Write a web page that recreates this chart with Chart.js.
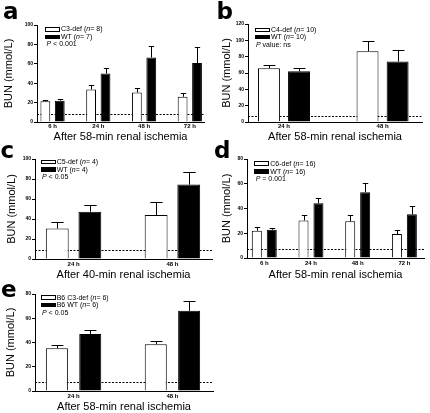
<!DOCTYPE html>
<html><head><meta charset="utf-8">
<script src="https://cdn.jsdelivr.net/npm/chart.js@4/dist/chart.umd.min.js"></script>
<style>
html,body{margin:0;padding:0;background:#fff;}
body{width:430px;height:413px;position:relative;overflow:hidden;font-family:'Liberation Sans',Arial,sans-serif;color:#000;}
canvas{position:absolute;}
.letter{position:absolute;font-family:'DejaVu Sans',sans-serif;font-weight:bold;font-size:23px;line-height:23px;}
.row{position:absolute;height:8px;line-height:8px;font-size:7px;white-space:nowrap;display:flex;align-items:center;}
.box{display:inline-block;width:13px;height:2.5px;border:1px solid #000;margin-right:1px;background:#fff;}
.box.fill{background:#000;}
</style></head><body>
<div id="root"></div>
<script>
// ---------------- DATA ----------------
// Panel a
const aLabels = ['6 h', '24 h', '48 h', '72 h'];
const aNames = ['C3-def', 'WT'];
const aN = [8, 7];
const aP = '< 0.001';
const aDef = [21.4, 33.4, 30.3, 26.0];
const aDefErr = [1.0, 4.6, 4.7, 3.6];
const aWT = [22.0, 50.0, 66.5, 60.7];
const aWTErr = [2.0, 6.0, 11.5, 16.3];
const aNormal = 8.5;
const aYTicks = [0, 20, 40, 60, 80, 100];
const aTitle = 'After 58-min renal ischemia';

// Panel b
const bLabels = ['24 h', '48 h'];
const bNames = ['C4-def', 'WT'];
const bN = [10, 10];
const bP = 'value: ns';
const bDef = [65.8, 86.7];
const bDefErr = [3.7, 12.8];
const bWT = [62.0, 74.0];
const bWTErr = [3.8, 14.0];
const bNormal = 7.8;
const bYTicks = [0, 20, 40, 60, 80, 100, 120];
const bTitle = 'After 58-min renal ischemia';

// Panel c
const cLabels = ['24 h', '48 h'];
const cNames = ['C5-def', 'WT'];
const cN = [4, 4];
const cP = '< 0.05';
const cDef = [30.5, 44.0];
const cDefErr = [6.7, 13.0];
const cWT = [47.3, 74.4];
const cWTErr = [6.4, 12.5];
const cNormal = 8.7;
const cYTicks = [0, 20, 40, 60, 80, 100];
const cTitle = 'After 40-min renal ischemia';

// Panel d
const dLabels = ['6 h', '24 h', '48 h', '72 h'];
const dNames = ['C6-def', 'WT'];
const dN = [16, 16];
const dP = '= 0.001';
const dDef = [22.0, 30.4, 29.6, 19.3];
const dDefErr = [2.7, 4.1, 4.9, 3.0];
const dWT = [22.8, 44.2, 53.2, 35.3];
const dWTErr = [1.3, 4.6, 7.8, 6.5];
const dNormal = 7.6;
const dYTicks = [0, 20, 40, 60, 80];
const dTitle = 'After 58-min renal ischemia';

// Panel e
const eLabels = ['24 h', '48 h'];
const eNames = ['B6 C3-def', 'B6 WT'];
const eN = [6, 6];
const eP = '< 0.05';
const eDef = [35.3, 38.6];
const eDefErr = [2.5, 2.7];
const eWT = [47.1, 66.1];
const eWTErr = [2.8, 7.8];
const eNormal = 7.3;
const eYTicks = [0, 20, 40, 60, 80];
const eTitle = 'After 58-min renal ischemia';

const yAxisTitle = 'BUN (mmol/L)';

// ---------------- LAYOUT (positions only) ----------------
const layouts = {
  a: {left:0, top:0, w:210, h:144, pl:2, pt:25, pr:6, yw:35, xh:22, xpad:1, xmin:-0.34, xmax:3.31, cp:0.63, bp:0.68,
      letter:{x:3, y:-0.5}, leg:{x:45, rows:[29.3, 36.8], px:46.5, py:44.3}},
  b: {left:215, top:0, w:215, h:144, pl:5, pt:24, pr:8, yw:28, xh:22, xpad:1, xmin:-0.365, xmax:1.40, cp:0.61, bp:0.73,
      letter:{x:216.5, y:-0.5}, leg:{x:255, rows:[30, 36.8], px:256, py:45}},
  c: {left:0, top:140, w:215, h:142, pl:5, pt:19, pr:3, yw:30, xh:23, xpad:1.5, xmin:-0.39, xmax:1.40, cp:0.66, bp:0.70,
      letter:{x:0.5, y:138.5}, leg:{x:40.7, rows:[162, 169.6], px:42, py:177.3}},
  d: {left:215, top:140, w:215, h:142, pl:5, pt:19, pr:6, yw:27, xh:24, xpad:2, xmin:-0.37, xmax:3.42, cp:0.64, bp:0.67,
      letter:{x:214, y:138.5}, leg:{x:254.3, rows:[163.5, 171.5], px:255.7, py:179.3}},
  e: {left:0, top:276, w:215, h:138, pl:4, pt:18, pr:2, yw:31, xh:23, xpad:2, xmin:-0.39, xmax:1.41, cp:0.675, bp:0.66,
      letter:{x:1, y:278}, leg:{x:40.7, rows:[297.5, 305], px:42, py:313}}
};

// ---------------- PLUGINS ----------------
const errorBarPlugin = {
  id: 'errorBars',
  afterDatasetsDraw(chart) {
    const ctx = chart.ctx, ys = chart.scales.y;
    ctx.save();
    ctx.strokeStyle = '#000';
    ctx.lineWidth = 1;
    chart.data.datasets.forEach((ds, k) => {
      const meta = chart.getDatasetMeta(k);
      meta.data.forEach((bar, i) => {
        const v = ds.data[i].y, e = ds.errors[i];
        const top = Math.round(ys.getPixelForValue(v + e)) + 0.5;
        const cx = Math.round(bar.x) + 0.5;
        const half = bar.width * 0.27;
        ctx.beginPath();
        ctx.moveTo(cx, bar.y);
        ctx.lineTo(cx, top);
        ctx.moveTo(cx - half, top);
        ctx.lineTo(cx + half, top);
        ctx.stroke();
      });
    });
    ctx.restore();
  }
};

const normalLinePlugin = {
  id: 'normalLine',
  beforeDatasetsDraw(chart, args, opts) {
    const ctx = chart.ctx, ys = chart.scales.y, ca = chart.chartArea;
    const y = Math.round(ys.getPixelForValue(opts.value)) + 0.5;
    ctx.save();
    ctx.strokeStyle = '#000';
    ctx.lineWidth = 1;
    ctx.setLineDash([2, 1.5]);
    ctx.beginPath();
    ctx.moveTo(ca.left, y);
    ctx.lineTo(ca.right, y);
    ctx.stroke();
    ctx.restore();
  }
};

Chart.defaults.font.family = "'Liberation Sans', Arial, sans-serif";
Chart.defaults.color = '#000';

const root = document.getElementById('root');

function buildPanel(key, labels, names, ns, p, def, defErr, wt, wtErr, normal, yTicks, xTitle) {
  const L = layouts[key];
  const cv = document.createElement('canvas');
  cv.width = L.w; cv.height = L.h;
  cv.style.left = L.left + 'px'; cv.style.top = L.top + 'px';
  cv.style.width = L.w + 'px'; cv.style.height = L.h + 'px';
  root.appendChild(cv);

  const series = [{values: def, errors: defErr, fill: '#fff'}, {values: wt, errors: wtErr, fill: '#000'}];
  new Chart(cv, {
    type: 'bar',
    data: {
      datasets: series.map((s, k) => ({
        label: names[k],
        data: s.values.map((v, i) => ({x: i, y: v})),
        errors: s.errors,
        backgroundColor: s.fill,
        borderColor: '#000',
        borderWidth: 1,
        borderSkipped: 'start',
        categoryPercentage: L.cp,
        barPercentage: L.bp
      }))
    },
    options: {
      responsive: false,
      animation: false,
      devicePixelRatio: 1,
      layout: {padding: {left: L.pl, top: L.pt, right: L.pr, bottom: 0}},
      plugins: {
        legend: {display: false},
        tooltip: {enabled: false},
        normalLine: {value: normal}
      },
      scales: {
        x: {
          type: 'linear', offset: false, min: L.xmin, max: L.xmax,
          afterBuildTicks: s => { s.ticks = labels.map((_, i) => ({value: i})); },
          afterFit: s => { s.height = L.xh; },
          ticks: {autoSkip: false, maxRotation: 0, padding: L.xpad, font: {size: 6, weight: 'bold'},
                  callback: v => labels[v]},
          grid: {display: false, drawTicks: false},
          border: {display: true, color: '#000', width: 1},
          title: {display: true, text: xTitle, font: {size: 11}, padding: 0, color: '#000'}
        },
        y: {
          min: yTicks[0], max: yTicks[yTicks.length - 1],
          afterBuildTicks: s => { s.ticks = yTicks.map(v => ({value: v})); },
          afterFit: s => { s.width = L.yw; },
          ticks: {padding: 1, font: {size: 5, weight: 'bold'}},
          grid: {display: true, drawOnChartArea: false, drawTicks: true, tickLength: 3, color: '#000'},
          border: {display: true, color: '#000', width: 1},
          title: {display: true, text: yAxisTitle, font: {size: 11}, padding: 0, color: '#000'}
        }
      }
    },
    plugins: [errorBarPlugin, normalLinePlugin]
  });

  // panel letter
  const lt = document.createElement('div');
  lt.className = 'letter';
  lt.style.left = L.letter.x + 'px'; lt.style.top = L.letter.y + 'px';
  lt.textContent = key;
  root.appendChild(lt);

  // legend
  names.forEach((nm, k) => {
    const r = document.createElement('div');
    r.className = 'row';
    r.style.left = L.leg.x + 'px';
    r.style.top = (L.leg.rows[k] - 4) + 'px';
    r.innerHTML = '<span class="box' + (k === 1 ? ' fill' : '') + '"></span>' + nm + ' (<i>n</i> = ' + ns[k] + ')';
    root.appendChild(r);
  });
  const pr = document.createElement('div');
  pr.className = 'row';
  pr.style.left = L.leg.px + 'px';
  pr.style.top = (L.leg.py - 4) + 'px';
  pr.innerHTML = '<i>P</i>&nbsp;' + p;
  root.appendChild(pr);
}

buildPanel('a', aLabels, aNames, aN, aP, aDef, aDefErr, aWT, aWTErr, aNormal, aYTicks, aTitle);
buildPanel('b', bLabels, bNames, bN, bP, bDef, bDefErr, bWT, bWTErr, bNormal, bYTicks, bTitle);
buildPanel('c', cLabels, cNames, cN, cP, cDef, cDefErr, cWT, cWTErr, cNormal, cYTicks, cTitle);
buildPanel('d', dLabels, dNames, dN, dP, dDef, dDefErr, dWT, dWTErr, dNormal, dYTicks, dTitle);
buildPanel('e', eLabels, eNames, eN, eP, eDef, eDefErr, eWT, eWTErr, eNormal, eYTicks, eTitle);
</script>
</body></html>
